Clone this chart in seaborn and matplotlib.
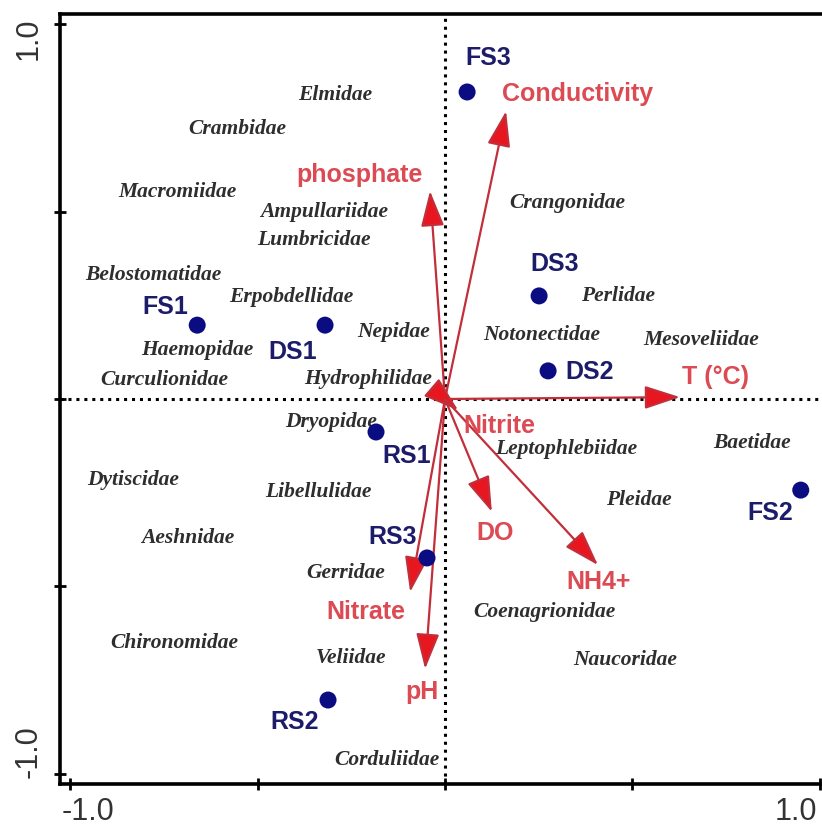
import matplotlib
matplotlib.use("Agg")
import matplotlib.pyplot as plt
import matplotlib.transforms as mtransforms
import seaborn as sns
import pandas as pd

# species scores (taxa names drawn as text)
species = ["Elmidae", "Crambidae", "Macromiidae", "Ampullariidae", "Lumbricidae",
           "Belostomatidae", "Erpobdellidae", "Haemopidae", "Curculionidae", "Nepidae",
           "Hydrophilidae", "Notonectidae", "Crangonidae", "Perlidae", "Mesoveliidae",
           "Dryopidae", "Leptophlebiidae", "Baetidae", "Dytiscidae", "Libellulidae",
           "Pleidae", "Aeshnidae", "Gerridae", "Coenagrionidae", "Chironomidae",
           "Veliidae", "Naucoridae", "Corduliidae"]
species_x = [-0.293, -0.555, -0.715, -0.323, -0.349, -0.779, -0.411, -0.661, -0.749, -0.136,
             -0.205, 0.259, 0.325, 0.461, 0.683, -0.304, 0.323, 0.819, -0.832, -0.339,
             0.517, -0.685, -0.264, 0.264, -0.723, -0.251, 0.480, -0.155]
species_y = [0.813, 0.723, 0.555, 0.501, 0.427, 0.333, 0.275, 0.133, 0.053, 0.181,
             0.056, 0.173, 0.525, 0.277, 0.160, -0.059, -0.131, -0.115, -0.213, -0.245,
             -0.267, -0.368, -0.461, -0.565, -0.648, -0.688, -0.693, -0.960]

# site scores
sites = ["FS1", "FS2", "FS3", "DS1", "DS2", "DS3", "RS1", "RS2", "RS3"]
site_x = [-0.661, 0.949, 0.059, -0.320, 0.275, 0.251, -0.184, -0.312, -0.048]
site_y = [0.197, -0.243, 0.819, 0.197, 0.075, 0.275, -0.088, -0.803, -0.424]

# environmental variable arrows (tips)
variables = ["Conductivity", "phosphate", "T (°C)", "Nitrite", "DO", "NH4+", "Nitrate", "pH"]
var_x = [0.163, -0.040, 0.627, 0.035, 0.125, 0.408, -0.093, -0.053]
var_y = [0.768, 0.555, 0.005, -0.030, -0.301, -0.443, -0.515, -0.720]

tick_vals = [-1, -0.5, 0, 0.5, 1]
tick_labels = ['-1.0', '', '', '', '1.0']

# label offsets in pixels (placement only)
site_off = {"FS1": (-32, 19), "FS2": (-31, -22), "FS3": (21, 35), "DS1": (-32, -26),
            "DS2": (42, 0), "DS3": (16, 33), "RS1": (31, -23), "RS2": (-33, -21),
            "RS3": (-34, 22)}
var_off = {"Conductivity": (71, 18), "phosphate": (-70, 17), "T (°C)": (35, 21),
           "Nitrite": (41, -15), "DO": (3, -20), "NH4+": (1, -16),
           "Nitrate": (-44, -19), "pH": (-3, -22)}

sns.set_style("white")
plt.rcParams['font.family'] = ['Liberation Sans', 'DejaVu Sans']

fig = plt.figure(figsize=(8.22, 8.29), dpi=100)
ax = fig.add_axes([60/822, 44/829, 770/822, 770/829])

ax.axhline(0, color='black', ls=(0, (1, 1.6)), lw=2.2, zorder=1)
ax.axvline(0, color='black', ls=(0, (1, 1.6)), lw=2.2, zorder=1)

# species names
for name, x, y in zip(species, species_x, species_y):
  ax.text(x, y, name, ha='center', va='center', fontsize=15.5, color='#2e2e2e',
          family='Liberation Serif', style='italic', fontweight='bold', zorder=2)

# arrows
for name, x, y in zip(variables, var_x, var_y):
  ax.annotate('', xy=(x, y), xytext=(0, 0),
              arrowprops=dict(arrowstyle='-|>,head_length=1.1,head_width=0.36',
                              fc='#e8161f', ec='#c22e3a', lw=1.6, mutation_scale=20,
                              shrinkA=0, shrinkB=0), zorder=3)
  dx, dy = var_off[name]
  ax.annotate(name, xy=(x, y), xytext=(dx, dy), textcoords='offset pixels',
              ha='center', va='center', fontsize=18, fontweight='bold',
              color='#dc4a53', zorder=4)

# sites
df_sites = pd.DataFrame({'x': site_x, 'y': site_y, 'site': sites})
sns.scatterplot(data=df_sites, x='x', y='y', color='#0c0c82', s=150,
                edgecolor='none', ax=ax, zorder=5, legend=False)
for name, x, y in zip(sites, site_x, site_y):
  dx, dy = site_off[name]
  ax.annotate(name, xy=(x, y), xytext=(dx, dy), textcoords='offset pixels',
              ha='center', va='center', fontsize=18, fontweight='bold',
              color='#1c1c6a', zorder=6)

ax.set_xlim(-1.027, 1.027)
ax.set_ylim(-1.027, 1.027)
ax.set_xticks(tick_vals)
ax.set_xticklabels(tick_labels)
ax.set_yticks(tick_vals)
ax.set_yticklabels(tick_labels, rotation=90, va='center')
ax.tick_params(direction='inout', length=8, width=2, color='black',
               labelsize=22, labelcolor='#333333', left=True, bottom=True)
ax.tick_params(axis='y', pad=8)
ax.tick_params(axis='x', pad=5)
ax.set_xlabel('')
ax.set_ylabel('')
for s in ax.spines.values():
  s.set_linewidth(2.6)
  s.set_color('black')

# end tick labels sit a little inward, as in the original
x_shift = [18, 0, 0, 0, -24]
y_shift = [23, 0, 0, 0, -14]
for lab, dx in zip(ax.get_xticklabels(), x_shift):
  lab.set_transform(lab.get_transform() + mtransforms.ScaledTranslation(dx/100, 0, fig.dpi_scale_trans))
for lab, dy in zip(ax.get_yticklabels(), y_shift):
  lab.set_transform(lab.get_transform() + mtransforms.ScaledTranslation(0, dy/100, fig.dpi_scale_trans))

fig.savefig('out.png', dpi=100)
